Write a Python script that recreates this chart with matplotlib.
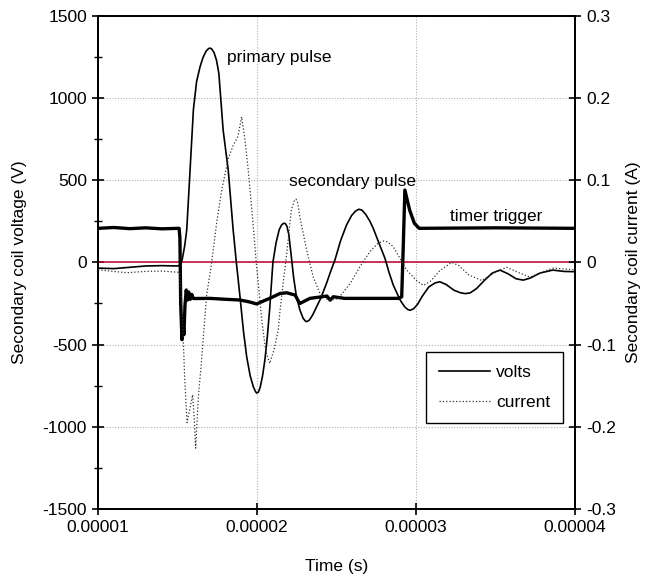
import matplotlib
matplotlib.use("Agg")
import matplotlib.pyplot as plt
from matplotlib.ticker import FixedLocator, FuncFormatter, MultipleLocator
import numpy as np

plt.rcParams["font.family"] = ["Liberation Sans", "DejaVu Sans"]
plt.rcParams["axes.unicode_minus"] = False

# secondary coil voltage (time in microseconds, volts)
volts_t = [10.0, 11.0, 12.0, 13.0, 14.0, 15.0, 15.2, 15.3, 15.45, 15.58, 15.8, 16.0, 16.2,
           16.42, 16.6, 16.8, 16.95, 17.05, 17.15, 17.3, 17.45, 17.6, 17.87, 18.19,
           18.5, 18.7, 18.93, 19.15, 19.35, 19.57, 19.77, 19.9, 19.98, 20.08, 20.2,
           20.35, 20.5, 20.65, 20.8, 21.0, 21.2, 21.4, 21.55, 21.68, 21.78, 21.88,
           22.0, 22.16, 22.3, 22.48, 22.7, 22.9, 23.05, 23.15, 23.3, 23.5, 23.75,
           24.0, 24.37, 24.65, 24.9, 25.25, 25.63, 25.95, 26.2, 26.4, 26.6, 26.85,
           27.1, 27.31, 27.7, 28.05, 28.3, 28.57, 29.0, 29.3, 29.5, 29.65, 29.85,
           30.1, 30.4, 30.8, 31.2, 31.5, 31.9, 32.4, 32.8, 33.1, 33.4, 33.8, 34.3,
           34.8, 35.28, 35.8, 36.3, 36.75, 37.2, 37.8, 38.6, 39.3, 40.0]
volts_v = [-35, -38, -30, -22, -20, -22, -15, 20, 100, 197, 580, 930, 1100,
           1190, 1245, 1285, 1300, 1303, 1298, 1275, 1230, 1150, 804, 561,
           197, 0, -209, -420, -574, -690, -757, -785, -795, -790, -760,
           -690, -590, -450, -280, 0, 120, 200, 228, 238, 236, 220,
           170, 34, -90, -209, -290, -340, -358, -360, -350, -320, -270,
           -220, -128, -50, 14, 130, 227, 285, 312, 323, 318, 290,
           250, 207, 110, 24, -60, -138, -229, -272, -288, -291, -282,
           -255, -205, -150, -125, -118, -135, -170, -185, -190, -186, -160, -110,
           -65, -47, -70, -100, -108, -95, -65, -47, -55, -57]

# secondary coil current (time in microseconds, amps)
current_t = [10.0, 11.0, 11.8, 13.0, 14.0, 15.0, 15.15, 15.3, 15.45, 15.6, 15.8, 15.95,
             16.05, 16.14, 16.31, 16.5, 16.83, 17.15, 17.46, 17.8, 18.2, 18.5, 18.8,
             19.03, 19.25, 19.45, 19.77, 19.95, 20.3, 20.55, 20.8, 21.1, 21.34, 21.45,
             21.65, 21.87, 22.16, 22.35, 22.45, 22.55, 22.7, 23.12, 23.54, 23.96, 24.3,
             24.59, 25.1, 25.85, 26.48, 27.1, 27.6, 27.94, 28.2, 28.57, 29.4, 30.03,
             30.47, 30.9, 31.5, 32.25, 32.7, 33.3, 34.13, 34.9, 35.7, 36.4, 37.17,
             37.9, 38.63, 39.3, 40.0]
current_a = [-0.009, -0.011, -0.0126, -0.011, -0.0106, -0.012, -0.012, -0.06, -0.14,
             -0.195, -0.176, -0.161, -0.19, -0.226, -0.164, -0.122, -0.04, 0.0,
             0.048, 0.09, 0.127, 0.142, 0.153, 0.177, 0.148, 0.112, 0.043, 0.0,
             -0.07, -0.108, -0.123, -0.104, -0.082, -0.058, -0.024, 0.011, 0.064,
             0.075, 0.077, 0.073, 0.055, 0.015, -0.018, -0.038, -0.044, -0.046,
             -0.044, -0.026, -0.005, 0.013, 0.023, 0.026, 0.025, 0.019, -0.009,
             -0.022, -0.028, -0.023, -0.01, 0.0, -0.004, -0.015, -0.022, -0.013,
             -0.006, -0.012, -0.018, -0.012, -0.007, -0.008, -0.009]

# timer trigger signal (time in microseconds, volts)
trigger_t = [10.0, 11.0, 12.0, 13.0, 14.0, 15.1, 15.15, 15.2, 15.28, 15.33, 15.4, 15.47,
             15.55, 15.62, 15.7, 15.8, 15.9, 16.0, 17.04, 18.1, 18.93, 19.5, 19.98,
             20.4, 20.8, 21.45, 21.87, 22.4, 22.6, 22.7, 23.0, 23.33, 24.4, 24.6,
             24.8, 25.5, 28.9, 29.1, 29.2, 29.3, 29.6, 29.9, 30.2, 35.0, 40.0]
trigger_v = [207, 212, 205, 210, 204, 207, 150, -250, -470, -330, -440, -260,
             -168, -230, -180, -225, -195, -220, -219, -225, -229, -240, -253,
             -235, -219, -189, -185, -199, -235, -250, -235, -219, -205, -230,
             -209, -219, -219, -210, 100, 440, 318, 237, 207, 210, 207]

y_left_ticks = [-1500, -1000, -500, 0, 500, 1000, 1500]
y_right_ticks = [-0.3, -0.2, -0.1, 0, 0.1, 0.2, 0.3]
x_ticks = [0.00001, 0.00002, 0.00003, 0.00004]

fig = plt.figure(figsize=(6.47, 5.8), dpi=100)
ax = fig.add_axes([0.1515, 0.1224, 0.7372, 0.8505])
ax2 = ax.twinx()

us = 1e-6
ax.axhline(0, color="#c0002a", lw=1.1, zorder=3)
ax.plot(np.array(trigger_t) * us, trigger_v, color="black", lw=2.4, zorder=4)
l_volts, = ax.plot(np.array(volts_t) * us, volts_v, color="black", lw=1.2, zorder=5,
                   label="volts")
l_cur, = ax2.plot(np.array(current_t) * us, current_a, color="#333333", lw=0.9,
                  linestyle=":", zorder=5, label="current")

ax.set_xlim(1e-5, 4e-5)
ax.set_ylim(-1500, 1500)
ax2.set_ylim(-0.3, 0.3)

ax.xaxis.set_major_locator(FixedLocator(x_ticks))
ax.xaxis.set_major_formatter(FuncFormatter(lambda x, p: f"{x:.5f}"))
ax.yaxis.set_major_locator(FixedLocator(y_left_ticks))
ax.yaxis.set_minor_locator(MultipleLocator(250))
ax.yaxis.set_major_formatter(FuncFormatter(lambda y, p: f"{y:.0f}"))
ax2.yaxis.set_major_locator(FixedLocator(y_right_ticks))
ax2.yaxis.set_major_formatter(FuncFormatter(lambda y, p: "0" if abs(y) < 1e-9 else f"{y:.1f}"))

ax.grid(True, which="major", color="#b0b0b0", linestyle=(0, (1, 1.5)), lw=0.8)
ax.set_axisbelow(True)

for a in (ax, ax2):
    for s in a.spines.values():
        s.set_linewidth(1.3)
ax.tick_params(which="major", direction="inout", length=8, width=1.2, labelsize=12.5, pad=4)
ax.tick_params(which="minor", direction="inout", length=6, width=1.0)
ax2.tick_params(which="major", direction="inout", length=8, width=1.2, labelsize=12.5, pad=4)

ax.set_xlabel("Time (s)", fontsize=12.5, labelpad=17)
ax.set_ylabel("Secondary coil voltage (V)", fontsize=12.5, labelpad=11)
ax2.set_ylabel("Secondary coil current (A)", fontsize=12.5, labelpad=7)

ax.text(18.09e-6, 1243, "primary pulse", fontsize=12.5, va="center", ha="left")
ax.text(22.03e-6, 490, "secondary pulse", fontsize=12.5, va="center", ha="left")
ax.text(32.14e-6, 277, "timer trigger", fontsize=12.5, va="center", ha="left")

leg = ax.legend([l_volts, l_cur], ["volts", "current"], loc="upper left",
                bbox_to_anchor=(0.687, 0.319), borderaxespad=0, fontsize=12.5,
                fancybox=False, framealpha=1, edgecolor="black", handlelength=2.95,
                borderpad=0.75, labelspacing=0.85, handletextpad=0.35)
leg.get_frame().set_linewidth(1.0)
leg.set_zorder(10)

fig.savefig("out.png", dpi=100)
